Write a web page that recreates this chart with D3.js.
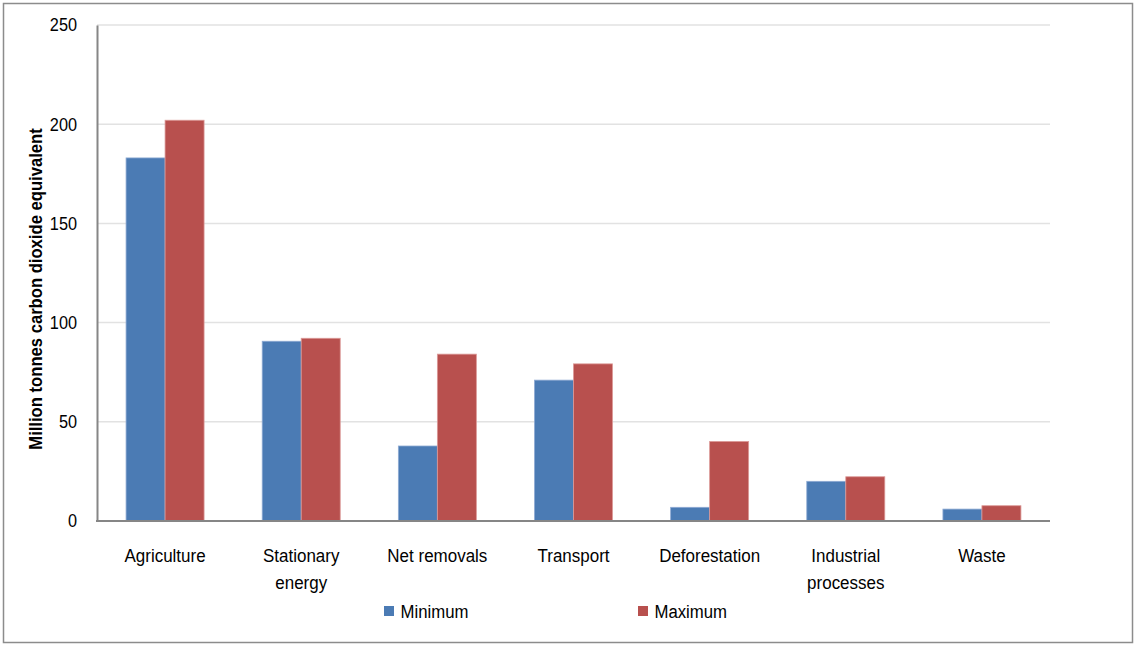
<!DOCTYPE html>
<html>
<head>
<meta charset="utf-8">
<script src="https://cdn.jsdelivr.net/npm/d3@7"></script>
<style>
  html, body { margin: 0; padding: 0; background: #fff; }
  svg { display: block; }
  text { font-family: "Liberation Sans", Arial, sans-serif; fill: #000; }
</style>
</head>
<body>
<svg id="chart" width="1136" height="646"></svg>
<script>
// Emissions by sector, minimum and maximum estimates
const categories = [
  ["Agriculture"],
  ["Stationary", "energy"],
  ["Net removals"],
  ["Transport"],
  ["Deforestation"],
  ["Industrial", "processes"],
  ["Waste"]
];
const minimumValues = [183, 90.6, 37.8, 71, 6.9, 20, 6];
const maximumValues = [202, 92.1, 84.1, 79.2, 40.1, 22.3, 7.7];
const seriesNames = ["Minimum", "Maximum"];
const seriesColors = ["#4b7bb4", "#b8504e"];
const yTicks = [0, 50, 100, 150, 200, 250];
const yTitle = "Million tonnes carbon dioxide equivalent";

const svg = d3.select("#chart");
const W = 1136, H = 646;
const plot = { left: 97, right: 1050, top: 25, bottom: 521 };

// squeeze a text element horizontally to mimic a narrow face
function condense(sel, k) {
  sel.each(function () {
    const len = this.getComputedTextLength();
    d3.select(this).attr("textLength", len * k).attr("lengthAdjust", "spacingAndGlyphs");
  });
}

// outer frame
svg.append("rect")
  .attr("x", 3.5).attr("y", 3.5)
  .attr("width", W - 7).attr("height", H - 7)
  .attr("fill", "#fff").attr("stroke", "#8c8c8c").attr("stroke-width", 1.5);

const labels = categories.map(c => c.join(" "));
const x0 = d3.scaleBand()
  .domain(labels)
  .range([plot.left, plot.right])
  .paddingInner(0.427)
  .paddingOuter(0.2135);
const x1 = d3.scaleBand()
  .domain(seriesNames)
  .range([0, x0.bandwidth()]);
const y = d3.scaleLinear().domain([0, 250]).range([plot.bottom, plot.top]);

// gridlines
svg.append("g")
  .selectAll("line")
  .data(yTicks.filter(t => t > 0))
  .join("line")
  .attr("x1", plot.left).attr("x2", plot.right)
  .attr("y1", d => y(d)).attr("y2", d => y(d))
  .attr("stroke", "#e2e2e2").attr("stroke-width", 1.5);

// y axis
const yAxis = svg.append("g")
  .attr("transform", `translate(${plot.left},0)`)
  .call(d3.axisLeft(y).tickValues(yTicks).tickSize(0).tickPadding(20));
yAxis.select(".domain").attr("stroke", "#868686").attr("stroke-width", 2);
yAxis.selectAll("text")
  .style("font-size", "18.5px")
  .style("font-family", "'Liberation Sans', Arial, sans-serif")
  .attr("fill", "#000")
  .call(condense, 0.88);

// bars
const rows = labels.map((c, i) => ({ cat: c, vals: [minimumValues[i], maximumValues[i]] }));
const groups = svg.append("g")
  .selectAll("g")
  .data(rows)
  .join("g")
  .attr("transform", d => `translate(${x0(d.cat)},0)`);
groups.selectAll("rect")
  .data(d => d.vals.map((v, j) => ({ s: seriesNames[j], v, j })))
  .join("rect")
  .attr("x", d => x1(d.s))
  .attr("y", d => y(d.v))
  .attr("width", x1.bandwidth())
  .attr("height", d => y(0) - y(d.v))
  .attr("fill", d => seriesColors[d.j])
  .attr("stroke", d => d.j === 0 ? "#8eaad3" : "#dc9a98")
  .attr("stroke-width", 0.8);

// x axis line
svg.append("line")
  .attr("x1", plot.left - 1).attr("x2", plot.right)
  .attr("y1", plot.bottom).attr("y2", plot.bottom)
  .attr("stroke", "#868686").attr("stroke-width", 2);

// category labels, one text per line
const catLines = [];
categories.forEach((lines, i) => {
  lines.forEach((t, k) => catLines.push({ t, k, cx: x0(labels[i]) + x0.bandwidth() / 2 }));
});
svg.append("g")
  .selectAll("text")
  .data(catLines)
  .join("text")
  .attr("x", d => d.cx)
  .attr("y", d => 562 + d.k * 27)
  .attr("text-anchor", "middle")
  .style("font-size", "17.5px")
  .text(d => d.t)
  .call(condense, 0.97);

// y axis title
svg.append("text")
  .attr("transform", `translate(42,${(plot.top + plot.bottom) / 2 + 16}) rotate(-90)`)
  .attr("text-anchor", "middle")
  .style("font-size", "17.5px")
  .style("font-weight", "bold")
  .text(yTitle)
  .call(condense, 0.95);

// legend
const legendX = [384, 638];
const legend = svg.append("g")
  .selectAll("g")
  .data(seriesNames)
  .join("g")
  .attr("transform", (d, i) => `translate(${legendX[i]},611)`);
legend.append("rect")
  .attr("x", 0).attr("y", -5)
  .attr("width", 10).attr("height", 10)
  .attr("fill", (d, i) => seriesColors[i]);
legend.append("text")
  .attr("x", 16.5).attr("y", 6.5)
  .style("font-size", "18px")
  .text(d => d)
  .call(condense, 0.93);
</script>
</body>
</html>
